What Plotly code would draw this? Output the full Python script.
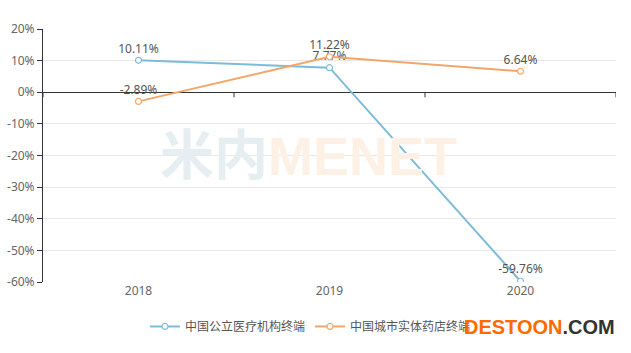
import plotly.graph_objects as go

years = ["2018", "2019", "2020"]
public_med = [10.11, 7.77, -59.76]
city_pharm = [-2.89, 11.22, 6.64]
series_names = ["中国公立医疗机构终端", "中国城市实体药店终端"]
y_ticks = [20, 10, 0, -10, -20, -30, -40, -50, -60]

blue = "#7cbcd9"
orange = "#f2a66a"
font_fam = "Noto Sans, Noto Sans CJK SC, sans-serif"

fig = go.Figure()
for name, vals, col in [(series_names[0], public_med, blue), (series_names[1], city_pharm, orange)]:
    fig.add_trace(go.Scatter(
        x=years, y=vals, name=name, mode="lines+markers+text",
        line=dict(color=col, width=2),
        marker=dict(symbol="circle", size=6, color="white", line=dict(color=col, width=1.2)),
        text=[f"{v:.2f}%" for v in vals], textposition="top center",
        textfont=dict(size=12, color="#555", family=font_fam),
        hoverinfo="skip",
    ))

# category boundary ticks on the zero axis
for b in [-0.5, 0.5, 1.5, 2.5]:
    fig.add_shape(type="line", xref="x", yref="y", x0=b, x1=b, y0=0, y1=-1.6,
                  line=dict(color="#333", width=1))

# watermarks
fig.add_annotation(xref="paper", yref="paper", x=(158-43)/573, y=1-(157-29)/256,
                   xanchor="left", yanchor="middle", showarrow=False,
                   text="<b><span style='color:#e6eef1'>米内</span><span style='color:#fdf0e4'>MENET</span></b>",
                   font=dict(size=54, family="Liberation Sans, Noto Sans CJK SC"))
fig.add_annotation(xref="paper", yref="paper", x=(617-43)/573, y=-(331-285)/256,
                   xanchor="right", yanchor="middle", showarrow=False,
                   text="<b><span style='color:#ff6a00'>DESTOON</span><span style='color:#333'>.COM</span></b>",
                   font=dict(size=20, family="Liberation Sans"))

fig.update_layout(
    width=631, height=353,
    margin=dict(l=43, r=15, t=29, b=68),
    paper_bgcolor="white", plot_bgcolor="white",
    font=dict(family=font_fam, size=12, color="#666"),
    showlegend=True,
    legend=dict(orientation="h", x=(145-43)/573, y=-(330-285)/256, xanchor="left", yanchor="middle",
                font=dict(size=12, color="#555"), itemwidth=30, traceorder="normal"),
    xaxis=dict(type="category", range=[-0.5, 2.5], showgrid=False, showline=False, ticks="",
               tickfont=dict(size=12, color="#666"), zeroline=False, fixedrange=True,
               automargin=False),
    yaxis=dict(range=[-60, 20], tickvals=y_ticks, ticktext=[f"{v}%" for v in y_ticks],
               showgrid=True, gridcolor="#e9e9e9", gridwidth=1, automargin=False,
               showline=True, linecolor="#333", linewidth=1, ticks="outside", ticklen=5,
               tickcolor="#333", zeroline=True, zerolinecolor="#333", zerolinewidth=1,
               tickfont=dict(size=12, color="#666")),
)

fig.write_html("out.html")
